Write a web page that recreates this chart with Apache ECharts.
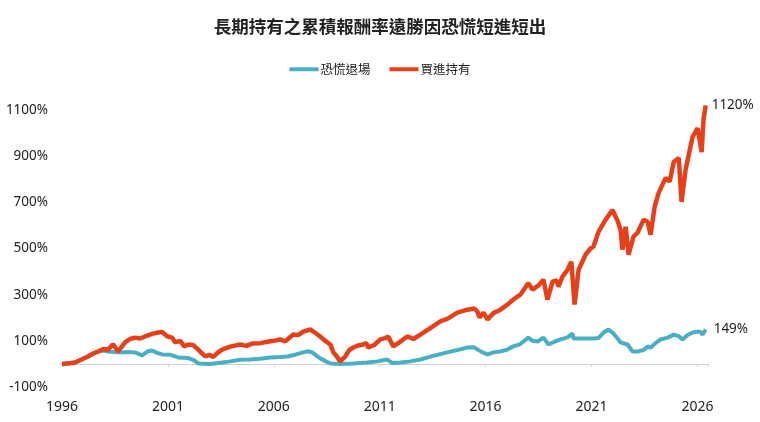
<!DOCTYPE html>
<html>
<head>
<meta charset="utf-8">
<script src="https://cdn.jsdelivr.net/npm/echarts@6/dist/echarts.min.js"></script>
<style>
    html, body { margin: 0; padding: 0; background: #fff; }
    #chart { width: 760px; height: 422px; }
</style>
</head>
<body>
<div id="chart"></div>
<script>
// 買進持有 (buy & hold), cumulative return %
let holdYears = [1996.00, 1996.38, 1996.61, 1996.95, 1997.23, 1997.47, 1997.70, 1997.94, 1998.17, 1998.41,
    1998.65, 1998.98, 1999.21, 1999.45, 1999.69, 1999.92, 2000.25, 2000.54, 2000.73, 2000.96,
    2001.20, 2001.34, 2001.58, 2001.77, 2001.95, 2002.19, 2002.43, 2002.62, 2002.76, 2002.95,
    2003.14, 2003.37, 2003.56, 2003.94, 2004.41, 2004.70, 2004.98, 2005.36, 2005.64, 2005.97,
    2006.30, 2006.54, 2006.92, 2007.15, 2007.39, 2007.72, 2007.91, 2008.19, 2008.43, 2008.67,
    2008.81, 2008.95, 2009.14, 2009.23, 2009.37, 2009.56, 2009.75, 2009.99, 2010.22, 2010.37,
    2010.46, 2010.74, 2011.03, 2011.26, 2011.41, 2011.64, 2011.88, 2012.30, 2012.59, 2012.92,
    2013.39, 2013.86, 2014.19, 2014.67, 2015.14, 2015.47, 2015.61, 2015.71, 2015.90, 2016.09,
    2016.37, 2016.70, 2017.03, 2017.31, 2017.64, 2018.02, 2018.21, 2018.50, 2018.73, 2018.92,
    2019.16, 2019.35, 2019.44, 2019.63, 2019.87, 2020.05, 2020.20, 2020.39, 2020.72, 2020.95,
    2021.09, 2021.33, 2021.66, 2021.99, 2022.23, 2022.37, 2022.46, 2022.61, 2022.75, 2022.98,
    2023.17, 2023.46, 2023.65, 2023.79, 2023.98, 2024.17, 2024.50, 2024.69, 2024.88, 2025.12,
    2025.25, 2025.44, 2025.77, 2026.01, 2026.20, 2026.29, 2026.39];
let holdValues = [0, 3, 6, 20, 32, 45, 54, 64, 62, 85,
    54, 93, 108, 114, 110, 119, 130, 136, 138, 120,
    114, 93, 100, 76, 84, 82, 62, 45, 32, 40,
    30, 50, 62, 75, 84, 78, 88, 90, 95, 100,
    106, 98, 127, 125, 140, 149, 138, 119, 100, 84,
    50, 35, 11, 20, 32, 60, 71, 80, 84, 90,
    71, 82, 106, 112, 118, 76, 90, 119, 108, 127,
    155, 184, 195, 222, 235, 240, 227, 201, 222, 192,
    220, 235, 257, 279, 300, 350, 322, 340, 365, 279,
    356, 362, 335, 378, 408, 443, 257, 408, 473, 500,
    508, 572, 624, 667, 620, 581, 495, 594, 473, 551,
    568, 625, 616, 560, 680, 741, 806, 790, 875, 892,
    702, 840, 983, 1022, 918, 1060, 1120];

// 恐慌退場 (panic exit), cumulative return %
let panicYears = [1996.00, 1996.61, 1997.23, 1997.70, 1997.98, 1998.17, 1998.65, 1999.12, 1999.45, 1999.78,
    2000.06, 2000.25, 2000.49, 2000.73, 2001.10, 2001.48, 2001.95, 2002.24, 2002.43, 2003.00,
    2003.56, 2003.94, 2004.41, 2004.88, 2005.36, 2005.83, 2006.30, 2006.63, 2007.01, 2007.39,
    2007.63, 2007.81, 2008.19, 2008.48, 2008.67, 2009.14, 2009.75, 2010.08, 2010.41, 2010.89,
    2011.36, 2011.60, 2011.97, 2012.45, 2012.92, 2013.53, 2014.19, 2014.67, 2015.14, 2015.47,
    2015.61, 2015.85, 2016.09, 2016.37, 2016.70, 2017.03, 2017.31, 2017.64, 2018.02, 2018.21,
    2018.45, 2018.73, 2018.97, 2019.20, 2019.54, 2019.87, 2020.10, 2020.15, 2021.09, 2021.33,
    2021.57, 2021.80, 2021.99, 2022.23, 2022.37, 2022.70, 2022.94, 2023.17, 2023.46, 2023.65,
    2023.79, 2024.02, 2024.26, 2024.60, 2024.88, 2025.12, 2025.30, 2025.54, 2025.77, 2026.01,
    2026.15, 2026.25, 2026.39];
let panicValues = [0, 6, 32, 54, 58, 54, 50, 52, 50, 37,
    55, 58, 48, 41, 40, 28, 26, 15, 2, 0,
    6, 11, 18, 19, 22, 28, 30, 32, 40, 50,
    55, 50, 24, 10, 2, 0, 2, 4, 6, 11,
    19, 4, 6, 11, 19, 35, 50, 60, 71, 72,
    63, 50, 41, 50, 54, 62, 76, 86, 114, 100,
    97, 114, 84, 94, 106, 115, 132, 110, 110, 112,
    136, 149, 136, 110, 93, 84, 54, 54, 60, 76,
    70, 90, 106, 114, 127, 120, 106, 125, 136, 140,
    138, 127, 149];

let yearTicks = [1996, 2001, 2006, 2011, 2016, 2021, 2026];
let pctTicks = [-100, 100, 300, 500, 700, 900, 1100];

function zip(xs, ys) {
    let out = [];
    for (let i = 0; i < xs.length; i++) {
        out.push([xs[i], ys[i]]);
    }
    return out;
}

let font = "'Noto Sans', 'Noto Sans CJK TC', sans-serif";
let tealColor = '#4bafc4';
let redColor = '#e6401b';

let myChart = echarts.init(document.getElementById('chart'));
let option = {
    animation: false,
    textStyle: { fontFamily: font },
    title: {
        text: '長期持有之累積報酬率遠勝因恐慌短進短出',
        left: 'center',
        top: 13,
        textStyle: { fontFamily: "'Noto Sans CJK TC', sans-serif", fontSize: 17.5, fontWeight: 'bold', color: '#222' }
    },
    legend: {
        top: 58,
        left: 'center',
        icon: 'rect',
        itemWidth: 29,
        itemHeight: 4,
        itemGap: 19,
        textStyle: { fontFamily: "'Noto Sans CJK TC', sans-serif", fontSize: 12.5, color: '#222', padding: [0, 0, 0, -3] },
        data: ['恐慌退場', '買進持有']
    },
    grid: { left: 62, right: 52, top: 110, bottom: 35 },
    xAxis: [{
        type: 'value',
        min: yearTicks[0],
        max: 2026.5,
        interval: 5,
        axisLine: { onZero: true, lineStyle: { color: '#d0d0d0', width: 1 } },
        axisTick: { show: true, length: 3, lineStyle: { color: '#d0d0d0' } },
        axisLabel: { show: false },
        splitLine: { show: false }
    }, {
        type: 'value',
        min: yearTicks[0],
        max: 2026.5,
        interval: 5,
        position: 'bottom',
        axisLine: { show: false, onZero: false },
        axisTick: { show: false },
        splitLine: { show: false },
        axisLabel: {
            margin: 13,
            fontSize: 14,
            color: '#222',
            showMaxLabel: false,
            formatter: function (v) {
                return yearTicks.indexOf(v) >= 0 ? String(v) : '';
            }
        }
    }],
    yAxis: {
        type: 'value',
        min: pctTicks[0],
        max: pctTicks[pctTicks.length - 1],
        interval: 200,
        axisLine: { show: false },
        axisTick: { show: false },
        splitLine: { show: false },
        axisLabel: {
            margin: 14,
            fontSize: 13.5,
            color: '#222',
            formatter: function (v) { return v + '%'; }
        }
    },
    series: [{
        name: '恐慌退場',
        type: 'line',
        xAxisIndex: 0,
        data: zip(panicYears, panicValues),
        symbol: 'none',
        clip: false,
        color: tealColor,
        lineStyle: { width: 4, color: tealColor, join: 'bevel' },
        endLabel: {
            show: true,
            distance: 8,
            fontSize: 13.5,
            color: '#222',
            formatter: function (p) { return p.value[1] + '%'; }
        }
    }, {
        name: '買進持有',
        type: 'line',
        xAxisIndex: 0,
        data: zip(holdYears, holdValues),
        symbol: 'none',
        clip: false,
        color: redColor,
        lineStyle: { width: 4.5, color: redColor, join: 'bevel' },
        endLabel: {
            show: true,
            distance: 6,
            fontSize: 13.5,
            color: '#222',
            formatter: function (p) { return p.value[1] + '%'; }
        }
    }]
};
myChart.setOption(option);
</script>
</body>
</html>
